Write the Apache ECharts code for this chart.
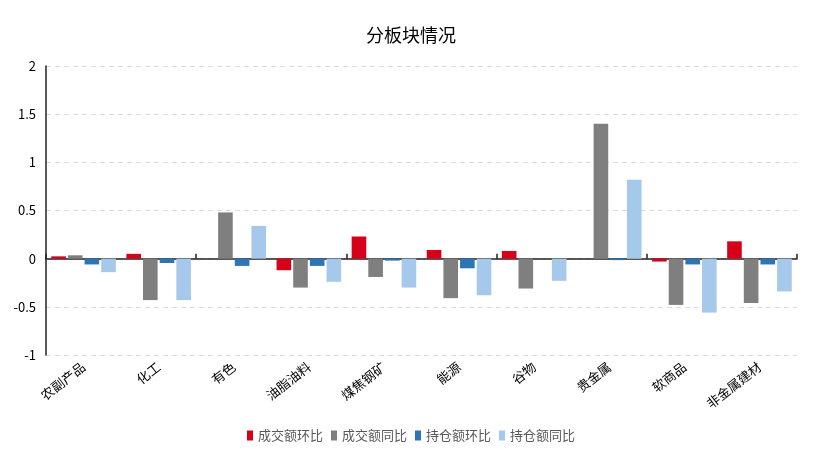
<!DOCTYPE html>
<html>
<head>
<meta charset="utf-8">
<script src="https://cdn.jsdelivr.net/npm/echarts@6/dist/echarts.min.js"></script>
<style>
  html, body { margin: 0; padding: 0; background: #fff; }
  #main { width: 822px; height: 459px; }
</style>
</head>
<body>
<div id="main"></div>
<script>
// 分板块数据
var categories = ['农副产品', '化工', '有色', '油脂油料', '煤焦钢矿', '能源', '谷物', '贵金属', '软商品', '非金属建材'];
var turnoverMoM = [0.024, 0.05, 0.0, -0.12, 0.23, 0.09, 0.08, 0.0, -0.03, 0.18];
var turnoverYoY = [0.035, -0.43, 0.48, -0.30, -0.19, -0.41, -0.31, 1.40, -0.48, -0.46];
var positionMoM = [-0.06, -0.045, -0.075, -0.075, -0.02, -0.10, 0.0, -0.015, -0.06, -0.06];
var positionYoY = [-0.14, -0.43, 0.34, -0.24, -0.30, -0.38, -0.23, 0.82, -0.56, -0.34];
var yTicks = [-1, 2, 0.5];  // min, max, interval

var myColor = ['#D7001A', '#7F7F7F', '#2E75B6', '#A6C8EA'];
var seriesNames = ['成交额环比', '成交额同比', '持仓额环比', '持仓额同比'];
var seriesData = [turnoverMoM, turnoverYoY, positionMoM, positionYoY];

var myChart = echarts.init(document.getElementById('main'));

myChart.setOption({
  animation: false,
  color: myColor,
  textStyle: { fontFamily: '"Noto Sans CJK SC", "Noto Sans", sans-serif' },
  title: {
    text: '分板块情况',
    left: 'center',
    top: 21,
    textStyle: { fontSize: 18, fontWeight: 'normal', color: '#000' }
  },
  grid: { left: 46, right: 25, top: 66, bottom: 104 },
  legend: {
    bottom: 12,
    left: 'center',
    itemWidth: 6,
    itemHeight: 10,
    itemGap: 8,
    icon: 'rect',
    textStyle: { color: '#595959', fontSize: 13 },
    data: seriesNames
  },
  xAxis: [{
    type: 'category',
    data: categories,
    axisLine: { show: false, onZero: false },
    axisTick: { show: false },
    axisLabel: { rotate: 38, color: '#000', fontSize: 13, margin: 10, interval: 0 }
  }, {
    // 零轴线
    type: 'category',
    data: categories,
    axisLine: { show: true, onZero: true, lineStyle: { color: '#222', width: 1.5 } },
    axisTick: { show: true, length: 5, lineStyle: { color: '#222', width: 1.5 } },
    axisLabel: { show: false },
    splitLine: { show: false }
  }],
  yAxis: {
    type: 'value',
    min: yTicks[0],
    max: yTicks[1],
    interval: yTicks[2],
    axisLine: { show: true, lineStyle: { color: '#222', width: 1.5 } },
    axisTick: { show: false },
    axisLabel: { color: '#000', fontSize: 13, margin: 10 },
    splitLine: { lineStyle: { color: '#dcdcdc', type: [5, 4] } }
  },
  series: seriesData.map(function (d, i) {
    return {
      name: seriesNames[i],
      type: 'bar',
      xAxisIndex: 0,
      data: d,
      barGap: '14%',
      barCategoryGap: '14%',
      z: 1
    };
  })
});
</script>
</body>
</html>
